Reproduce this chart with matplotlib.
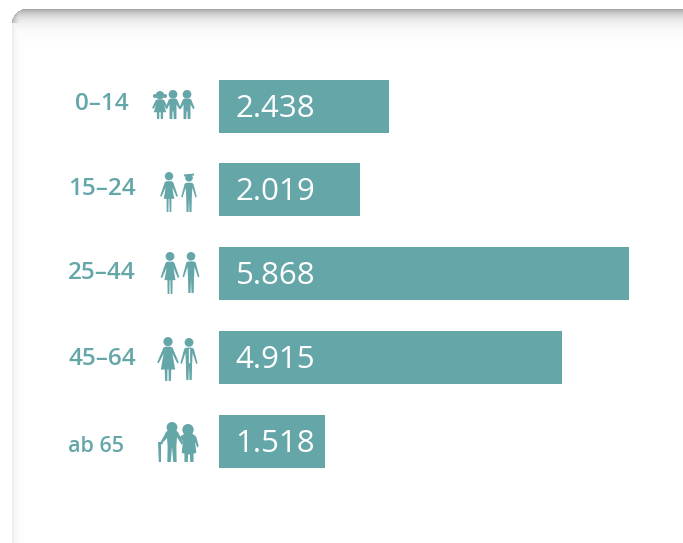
import numpy as np
import matplotlib
matplotlib.use('Agg')
import matplotlib.pyplot as plt
from matplotlib.patches import Circle, Polygon

ages = ['0–14', '15–24', '25–44', '45–64', 'ab 65']
values = [2438, 2019, 5868, 4915, 1518]

teal = '#65a6a8'
W, H = 683, 543

fig = plt.figure(figsize=(W/100., H/100.), dpi=100)

# card with soft shadow at the top and on the left
bg = fig.add_axes([0, 0, 1, 1])
bg.set_xlim(0, W)
bg.set_ylim(H, 0)
bg.axis('off')
xx, yy = np.meshgrid(np.arange(W)+0.5, np.arange(H)+0.5)
r = 14.
x0, y0 = 12., 9.
dx = np.clip(x0+r-xx, 0, None)
dy = np.clip(y0+r-yy, 0, None)
edge = r-np.hypot(dx, dy)           # distance inside the rounded corner
top = yy-y0
left = xx-x0
corner = (dx > 0) & (dy > 0)
shade_top = 0.36*np.exp(-np.clip(top, 0, None)/8.)
shade_left = 0.08*np.exp(-np.clip(left, 0, None)/4.)
shade = np.maximum(shade_top, shade_left)
shade[corner] = np.maximum(shade[corner], 0.30*np.exp(-np.clip(edge[corner], 0, None)/6.))
shade[(top < 0) | (left < 0) | (corner & (edge < 0))] = 0
bg.imshow(1-shade, cmap='gray', vmin=0, vmax=1, extent=(0, W, H, 0), aspect='auto',
          interpolation='nearest')
bg.set_xlim(0, W)
bg.set_ylim(H, 0)


def shape(pts, cx, ytop, h, xs=0.82):
    bg.add_patch(Polygon([(cx+p[0]*h*xs, ytop+p[1]*h) for p in pts], closed=True, fc=teal, ec='none'))


def head(cx, ytop, h, rad=0.105, off=0.0):
    bg.add_patch(Circle((cx+off*h, ytop+rad*h), rad*h, fc=teal, ec='none'))


man = [(-0.09, 0.23), (0.09, 0.23), (0.14, 0.26), (0.25, 0.60), (0.21, 0.62), (0.105, 0.36),
       (0.09, 0.62), (0.08, 1.0), (0.015, 1.0), (0.0, 0.66), (-0.015, 1.0), (-0.08, 1.0),
       (-0.09, 0.62), (-0.105, 0.36), (-0.21, 0.62), (-0.25, 0.60), (-0.14, 0.26)]
woman = [(-0.08, 0.23), (0.08, 0.23), (0.13, 0.26), (0.27, 0.60), (0.23, 0.62), (0.10, 0.38),
         (0.16, 0.67), (0.075, 0.67), (0.07, 1.0), (0.02, 1.0), (0.01, 0.67), (-0.01, 0.67),
         (-0.02, 1.0), (-0.07, 1.0), (-0.075, 0.67), (-0.16, 0.67), (-0.10, 0.38), (-0.23, 0.62),
         (-0.27, 0.60), (-0.13, 0.26)]
lady = [(-0.08, 0.22), (0.08, 0.22), (0.13, 0.25), (0.30, 0.58), (0.26, 0.60), (0.12, 0.38),
        (0.20, 0.74), (0.09, 0.74), (0.08, 1.0), (0.02, 1.0), (0.015, 0.74), (-0.015, 0.74),
        (-0.02, 1.0), (-0.08, 1.0), (-0.09, 0.74), (-0.20, 0.74), (-0.12, 0.38), (-0.26, 0.60),
        (-0.30, 0.58), (-0.13, 0.25)]
kid = [(-0.12, 0.30), (0.12, 0.30), (0.18, 0.33), (0.33, 0.62), (0.27, 0.66), (0.15, 0.50),
       (0.15, 1.0), (0.03, 1.0), (0.02, 0.74), (-0.02, 0.74), (-0.03, 1.0), (-0.15, 1.0),
       (-0.15, 0.50), (-0.27, 0.66), (-0.33, 0.62), (-0.18, 0.33)]
girl = [(-0.10, 0.30), (0.10, 0.30), (0.18, 0.33), (0.33, 0.60), (0.27, 0.64), (0.17, 0.50),
        (0.26, 0.76), (0.13, 0.76), (0.13, 1.0), (0.03, 1.0), (0.03, 0.76), (-0.03, 0.76),
        (-0.03, 1.0), (-0.13, 1.0), (-0.13, 0.76), (-0.26, 0.76), (-0.17, 0.50), (-0.27, 0.64),
        (-0.33, 0.60), (-0.18, 0.33)]
oldman = [(-0.12, 0.20), (0.12, 0.20), (0.20, 0.26), (0.36, 0.52), (0.31, 0.57), (0.16, 0.38),
          (0.14, 0.62), (0.15, 1.0), (0.04, 1.0), (0.0, 0.62), (-0.04, 1.0), (-0.15, 1.0),
          (-0.14, 0.62), (-0.16, 0.40), (-0.30, 0.52), (-0.30, 0.56), (-0.36, 0.50), (-0.20, 0.26)]
oldlady = [(-0.11, 0.25), (0.11, 0.25), (0.24, 0.34), (0.32, 0.58), (0.27, 0.62), (0.20, 0.46),
           (0.24, 0.76), (0.15, 0.78), (0.15, 1.0), (0.04, 1.0), (0.03, 0.80), (-0.03, 0.80),
           (-0.04, 1.0), (-0.15, 1.0), (-0.15, 0.78), (-0.24, 0.76), (-0.20, 0.46), (-0.30, 0.34),
           (-0.20, 0.28)]
cane = [(-0.05, 0.50), (0.05, 0.50), (0.07, 0.54), (0.025, 0.56), (0.025, 1.0), (-0.03, 1.0)]

# 0-14
head(160, 91, 28, 0.15); shape(girl, 160, 91, 28, 0.85)
bg.add_patch(Circle((155, 96), 2, fc=teal)); bg.add_patch(Circle((165, 96), 2, fc=teal))
head(173, 90, 29, 0.15); shape(kid, 173, 90, 29, 0.8)
head(187, 90, 29, 0.15); shape(kid, 187, 90, 29, 0.8)
# 15-24
head(169, 172, 40); shape(woman, 169, 172, 40)
head(189, 174, 38, 0.10); shape(man, 189, 174, 38)
bg.plot([184, 194], [175.5, 174.5], color=teal, lw=1.4, solid_capstyle='butt')
# 25-44
head(170, 252, 42); shape(woman, 170, 252, 42)
head(191, 252, 41); shape(man, 191, 252, 41)
# 45-64
head(168, 337, 44); shape(lady, 168, 337, 44)
head(189, 338, 42); shape(man, 189, 338, 42)
bg.plot([189, 189], [349, 362], color='white', lw=0.9)
# ab 65
head(172, 422, 40, 0.135); shape(oldman, 172, 422, 40, 0.78)
head(188, 424, 38, 0.15); shape(oldlady, 189, 424, 38, 0.8)
shape(cane, 160, 422, 40, 1.0)

for lab, xc, yc, fs in zip(ages, [102, 102, 102, 102, 96], [103.5, 189, 273, 359, 446],
                           [17.5, 17.5, 17.5, 17.5, 15.5]):
    bg.text(xc, yc, lab, color=teal, fontsize=fs, fontweight='semibold', family='Open Sans',
            ha='center', va='center')

# bars, 0 sits at x=219 and 5868 at x=629
ax = fig.add_axes([219./W, 0, 1-219./W, 1])
ax.patch.set_alpha(0)
ax.set_xlim(0, 464/(410/5868.))
ypos = np.arange(len(values))
py = 83.75
ax.set_ylim((543-106.)/py, -106./py)
ax.barh(ypos, values, height=53/py, color=teal, linewidth=0)
for i, v in enumerate(values):
    ax.annotate('{:,}'.format(v).replace(',', '.'), (0, i), xytext=(16.5*0.72, 0.7),
                textcoords='offset points', color='white', fontsize=22.5, family='Open Sans',
                ha='left', va='center_baseline')
ax.axis('off')

fig.savefig('out.png', dpi=100)
